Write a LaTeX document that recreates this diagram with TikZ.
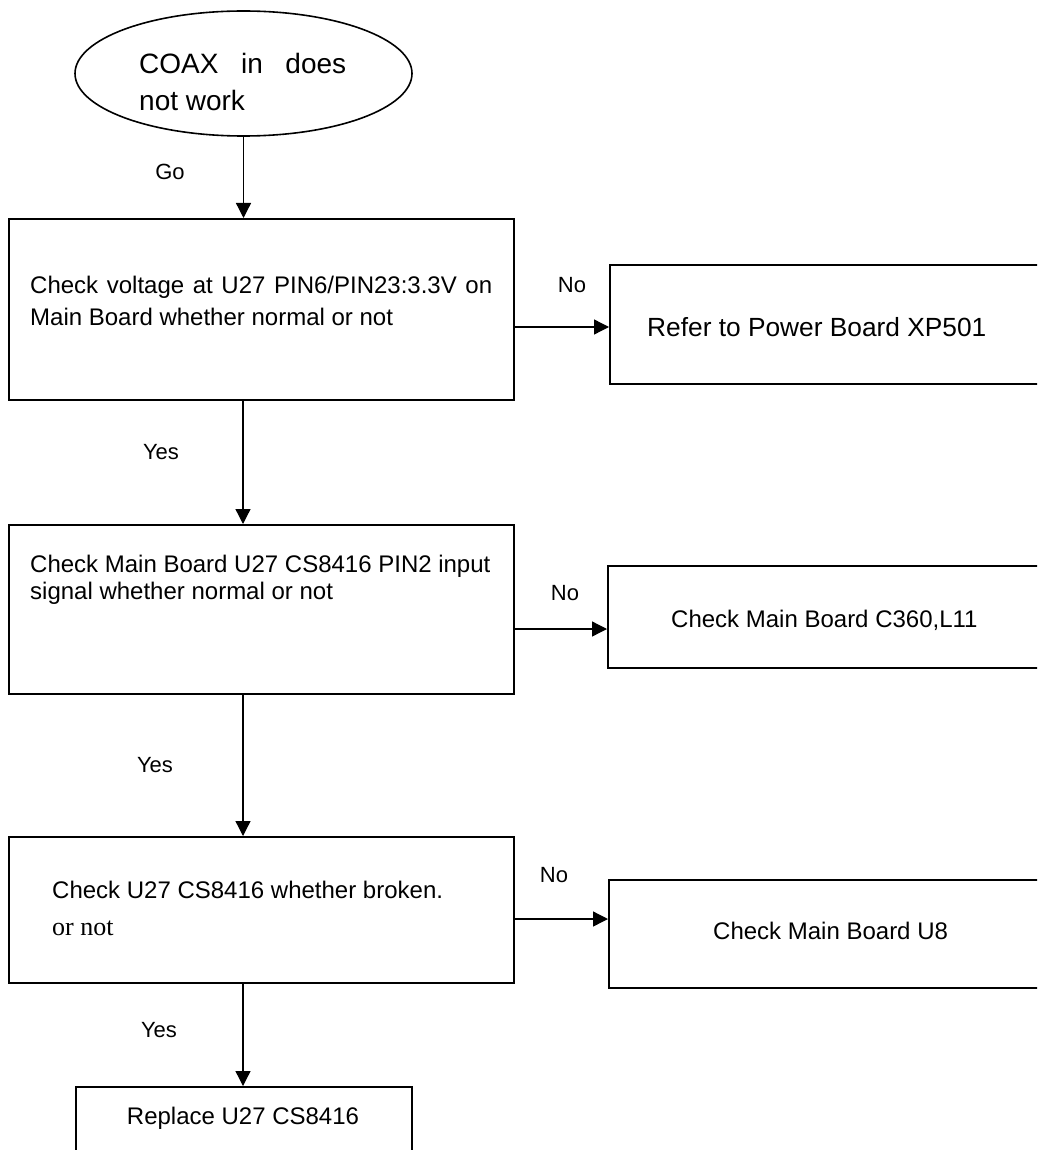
\documentclass[tikz,border=0pt]{standalone}
\usepackage{fontspec}
\setmainfont{Liberation Sans}
\newfontfamily\timesfont{Liberation Serif}
\usetikzlibrary{shapes.geometric,arrows.meta}
\begin{document}
\begin{tikzpicture}[x=1pt,y=-1pt,
  box/.style={draw,line width=1.8pt,rectangle,anchor=north west,inner sep=0pt},
  conn/.style={line width=1.3pt,-{Triangle[length=15pt,width=15pt]}},
  lbl/.style={font=\fontsize{22}{26}\selectfont,inner sep=0pt},
  txt/.style={font=\fontsize{24}{32}\selectfont,inner sep=0pt,anchor=west,align=left},
]
\clip (0,0) rectangle (1037,1150);
\fill[white] (0,0) rectangle (1037,1150);

% shapes
\node[draw,line width=1.6pt,ellipse,inner sep=0pt,minimum width=337pt,minimum height=125pt] (e) at (243.5,73.5) {};
\node[box,minimum width=505pt,minimum height=181pt] (b1) at (8,218) {};
\node[box,minimum width=505pt,minimum height=169pt] (b2) at (8,524) {};
\node[box,minimum width=505pt,minimum height=146pt] (b3) at (8,836) {};
\node[box,minimum width=440pt,minimum height=119pt] (r1) at (609,264) {};
\node[box,minimum width=440pt,minimum height=102pt] (r2) at (607,565) {};
\node[box,minimum width=440pt,minimum height=108pt] (r3) at (608,879) {};
\node[box,minimum width=336pt,minimum height=80pt] (b4) at (75,1086) {};

% texts
\node[txt,font=\fontsize{28}{37}\selectfont] (te) at (139,81.5)
  {\makebox[207pt][s]{COAX in does}\\not work};
\node[txt] (t1) at (30,301)
  {\makebox[462pt][s]{Check voltage at U27 PIN6/PIN23:3.3V on}\\Main Board whether normal or not};
\node[txt,font=\fontsize{24}{27}\selectfont] (t2) at (30,580)
  {Check Main Board U27 CS8416 PIN2 input\\signal whether normal or not};
\node[txt,font=\fontsize{24}{37}\selectfont] (t3) at (52,908.5)
  {Check U27 CS8416 whether broken.\\{\timesfont\fontsize{26}{37}\selectfont or not}};
\node[txt,font=\fontsize{26.3}{32}\selectfont] (tr1) at (647,327) {Refer to Power Board XP501};
\node[txt] (tr2) at (671,620) {Check Main Board C360,L11};
\node[txt] (tr3) at (713,931) {Check Main Board U8};
\node[txt,anchor=center] (t4) at (243,1118) {Replace U27 CS8416};

% helper coordinates
\coordinate (sp) at (243,0);
\coordinate (h1) at (0,327);
\coordinate (h2) at (0,629);
\coordinate (h3) at (0,919);

% connectors
\draw[conn] (e.south) -- (e.south |- b1.north);
\draw[conn] (b1.south -| sp) -- (b2.north -| sp);
\draw[conn] (b2.south -| sp) -- (b3.north -| sp);
\draw[conn] (b3.south -| sp) -- (b4.north -| sp);
\draw[conn] (b1.east |- h1) -- (r1.west |- h1);
\draw[conn] (b2.east |- h2) -- (r2.west |- h2);
\draw[conn] (b3.east |- h3) -- (r3.west |- h3);

% labels
\node[lbl] (lgo) at (170,172) {Go};
\node[lbl] (ln1) at (572,285) {No};
\node[lbl] (ln2) at (565,593) {No};
\node[lbl] (ln3) at (554,875) {No};
\node[lbl] (ly1) at (161,452) {Yes};
\node[lbl] (ly2) at (155,765) {Yes};
\node[lbl] (ly3) at (159,1030) {Yes};
\end{tikzpicture}
\end{document}
